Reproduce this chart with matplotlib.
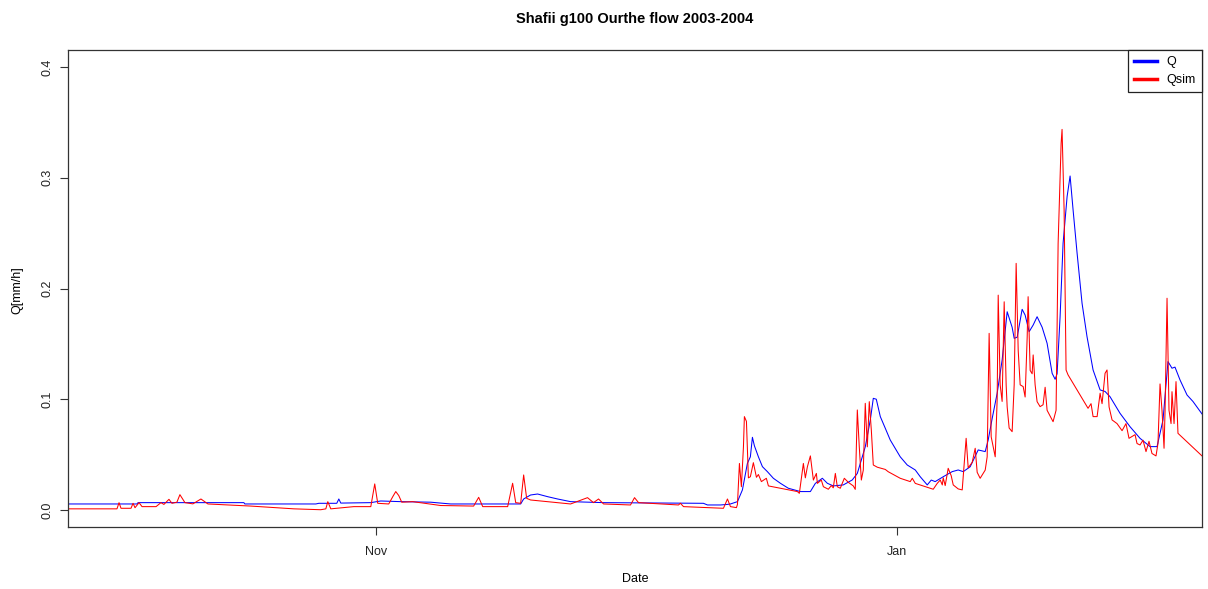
import numpy as np
import pandas as pd
import matplotlib
matplotlib.use("Agg")
import matplotlib.pyplot as plt

plt.rcParams['font.family'] = ['Liberation Sans', 'DejaVu Sans']

# series start (days below are counted from here)
start = pd.Timestamp('2003-09-26')

q_days = [0.0, 8.07, 8.19, 20.57, 20.69, 28.99, 29.34, 31.44, 31.68, 31.91,
          35.42, 36.58, 38.92, 42.43, 44.76, 52.95, 53.30, 54.11, 54.93, 56.10,
          57.27, 58.79, 62.65, 74.33, 74.80, 76.32, 77.14, 77.49, 78.31, 78.89,
          79.47, 79.82, 80.06, 80.29, 80.76, 81.23, 81.81, 82.51, 83.33, 84.26,
          85.67, 86.84, 87.42, 88.24, 88.82, 89.52, 90.69, 91.74, 92.33, 92.68,
          93.26, 93.85, 94.20, 94.55, 95.02, 95.60, 96.18, 97.35, 98.17, 99.11,
          99.69, 100.51, 100.98, 101.44, 102.38, 103.43, 104.13, 104.72, 105.53, 106.47,
          107.29, 107.64, 108.11, 108.69, 109.27, 109.86, 110.44, 110.68, 111.03, 111.61,
          111.96, 112.43, 112.90, 113.36, 113.95, 114.53, 115.12, 115.47, 115.70, 116.05,
          116.40, 116.87, 117.22, 117.57, 118.04, 118.62, 119.20, 119.91, 120.73, 121.31,
          121.89, 123.06, 124.23, 125.40, 126.57, 127.39, 128.09, 128.67, 129.14, 129.49,
          130.08, 130.90, 131.59, 132.65]
q_vals = [0.0054, 0.0054, 0.0066, 0.0066, 0.0054, 0.0054, 0.0060, 0.0060, 0.0099, 0.0062,
          0.0066, 0.0081, 0.0075, 0.0070, 0.0054, 0.0054, 0.0099, 0.0135, 0.0144, 0.0120,
          0.0099, 0.0075, 0.0066, 0.0060, 0.0045, 0.0045, 0.0050, 0.0054, 0.0075, 0.0181,
          0.0420, 0.0480, 0.0656, 0.0580, 0.0480, 0.0391, 0.0346, 0.0286, 0.0241, 0.0196,
          0.0166, 0.0166, 0.0240, 0.0286, 0.0241, 0.0217, 0.0226, 0.0271, 0.0330, 0.0420,
          0.0570, 0.0813, 0.1008, 0.1000, 0.0843, 0.0738, 0.0632, 0.0480, 0.0406, 0.0361,
          0.0300, 0.0226, 0.0270, 0.0256, 0.0300, 0.0346, 0.0361, 0.0346, 0.0390, 0.0542,
          0.0527, 0.0632, 0.0828, 0.1054, 0.1354, 0.1790, 0.1650, 0.1550, 0.1560, 0.1812,
          0.1760, 0.1610, 0.1670, 0.1745, 0.1650, 0.1505, 0.1234, 0.1180, 0.1230, 0.1745,
          0.2408, 0.2830, 0.3016, 0.2710, 0.2318, 0.1866, 0.1565, 0.1264, 0.1084, 0.1070,
          0.1023, 0.0873, 0.0752, 0.0647, 0.0572, 0.0572, 0.0813, 0.1340, 0.1280, 0.1290,
          0.1174, 0.1038, 0.0980, 0.0867]

# simulated flow Qsim
qs_days = [0.0, 5.73, 5.97, 6.20, 7.37, 7.61, 7.84, 8.31, 8.66, 10.30,
           10.87, 11.22, 11.81, 12.16, 12.74, 13.09, 13.68, 14.61, 15.55, 16.37,
           21.39, 26.42, 29.57, 30.16, 30.39, 30.74, 33.43, 35.42, 35.88, 36.23,
           37.52, 37.99, 38.34, 38.69, 39.04, 40.32, 43.60, 47.45, 48.04, 48.51,
           51.43, 52.01, 52.37, 52.95, 53.30, 53.65, 54.11, 58.79, 60.77, 61.47,
           62.06, 62.65, 65.80, 66.27, 66.74, 71.41, 71.64, 72.00, 76.67, 77.14,
           77.49, 78.19, 78.31, 78.54, 78.77, 79.01, 79.12, 79.36, 79.59, 79.82,
           80.17, 80.53, 80.76, 81.11, 81.69, 81.93, 83.33, 85.32, 85.55, 86.02,
           86.25, 86.49, 86.84, 87.19, 87.54, 87.66, 88.12, 88.36, 88.94, 89.29,
           89.52, 89.76, 89.99, 90.34, 90.81, 91.27, 91.86, 92.09, 92.33, 92.56,
           92.80, 93.03, 93.26, 93.50, 93.73, 93.97, 94.20, 94.67, 95.60, 95.95,
           97.35, 98.52, 98.76, 99.11, 101.21, 101.68, 102.03, 102.27, 102.38, 102.61,
           102.96, 103.31, 103.55, 104.13, 104.60, 105.06, 105.30, 105.77, 106.12, 106.35,
           106.70, 107.29, 107.52, 107.75, 107.99, 108.22, 108.46, 108.69, 108.81, 109.04,
           109.27, 109.51, 109.74, 109.86, 110.09, 110.44, 110.68, 110.91, 111.15, 111.38,
           111.73, 111.96, 112.20, 112.31, 112.55, 112.78, 112.90, 113.13, 113.36, 113.71,
           114.06, 114.30, 114.53, 115.23, 115.58, 115.82, 116.17, 116.28, 116.52, 116.75,
           116.98, 119.32, 119.67, 119.91, 120.38, 120.73, 120.96, 121.31, 121.54, 121.78,
           122.13, 122.71, 123.30, 123.76, 124.11, 124.82, 125.05, 125.40, 125.75, 126.10,
           126.45, 126.80, 127.27, 127.50, 127.74, 127.97, 128.21, 128.33, 128.56, 128.79,
           129.03, 129.14, 129.38, 129.61, 129.84, 131.24, 132.65]
qs_vals = [0.0010, 0.0010, 0.0066, 0.0015, 0.0015, 0.0060, 0.0020, 0.0066, 0.0030, 0.0030,
           0.0066, 0.0050, 0.0096, 0.0060, 0.0070, 0.0138, 0.0066, 0.0055, 0.0099, 0.0054,
           0.0035, 0.0010, 0.0002, 0.0010, 0.0075, 0.0010, 0.0030, 0.0030, 0.0235, 0.0060,
           0.0054, 0.0120, 0.0166, 0.0130, 0.0070, 0.0075, 0.0040, 0.0035, 0.0114, 0.0030,
           0.0030, 0.0241, 0.0066, 0.0060, 0.0316, 0.0105, 0.0090, 0.0054, 0.0111, 0.0066,
           0.0099, 0.0054, 0.0045, 0.0111, 0.0066, 0.0045, 0.0060, 0.0030, 0.0015, 0.0099,
           0.0030, 0.0021, 0.0050, 0.0420, 0.0210, 0.0570, 0.0843, 0.0800, 0.0290, 0.0300,
           0.0427, 0.0295, 0.0320, 0.0256, 0.0286, 0.0217, 0.0196, 0.0166, 0.0150, 0.0420,
           0.0290, 0.0390, 0.0488, 0.0270, 0.0330, 0.0240, 0.0270, 0.0210, 0.0187, 0.0220,
           0.0200, 0.0330, 0.0210, 0.0196, 0.0286, 0.0250, 0.0217, 0.0186, 0.0903, 0.0570,
           0.0270, 0.0360, 0.0963, 0.0570, 0.0978, 0.0720, 0.0406, 0.0386, 0.0366, 0.0345,
           0.0286, 0.0256, 0.0286, 0.0240, 0.0187, 0.0240, 0.0270, 0.0226, 0.0290, 0.0220,
           0.0376, 0.0310, 0.0226, 0.0190, 0.0181, 0.0647, 0.0380, 0.0430, 0.0557, 0.0340,
           0.0286, 0.0360, 0.0480, 0.1595, 0.0660, 0.0570, 0.0480, 0.1000, 0.1940, 0.1130,
           0.0980, 0.1880, 0.1130, 0.0930, 0.0740, 0.0707, 0.1130, 0.2227, 0.1440, 0.1130,
           0.1114, 0.1020, 0.1560, 0.1926, 0.1260, 0.1230, 0.1400, 0.1130, 0.0978, 0.0933,
           0.0950, 0.1108, 0.0900, 0.0797, 0.0900, 0.2408, 0.3310, 0.3437, 0.2710, 0.1264,
           0.1220, 0.0918, 0.0960, 0.0843, 0.0843, 0.1054, 0.0960, 0.1234, 0.1264, 0.0930,
           0.0813, 0.0780, 0.0716, 0.0780, 0.0647, 0.0680, 0.0600, 0.0587, 0.0630, 0.0527,
           0.0620, 0.0510, 0.0488, 0.0600, 0.1138, 0.0900, 0.0557, 0.0900, 0.1912, 0.0900,
           0.0780, 0.1068, 0.0780, 0.1159, 0.0692, 0.0590, 0.0488]

y_ticks = [0.0, 0.1, 0.2, 0.3, 0.4]
x_ticks = ['2003-11-01', '2004-01-01']
x_labels = ['Nov', 'Jan']

q_dates = start + pd.to_timedelta(q_days, unit='D')
qs_dates = start + pd.to_timedelta(qs_days, unit='D')

fig = plt.figure(figsize=(12.08, 5.89), dpi=100)
ax = fig.add_axes([68 / 1208, 1 - 527 / 589, (1202 - 68) / 1208, (527 - 50) / 589])

ax.plot(q_dates, q_vals, color='blue', lw=0.75, label='Q')
ax.plot(qs_dates, qs_vals, color='red', lw=0.75, label='Qsim')

ax.set_xlim(q_dates[0], q_dates[-1])
ax.set_ylim(-0.0154, 0.4154)

ax.set_yticks(y_ticks)
ax.set_yticklabels(['%.1f' % v for v in y_ticks], rotation=90, va='center')
ax.set_xticks(pd.to_datetime(x_ticks))
ax.set_xticklabels(x_labels)
ax.tick_params(axis='both', direction='out', length=5.5, width=0.8,
               labelsize=9, color='#333333', labelcolor='#222222')
ax.tick_params(axis='y', pad=5)
ax.tick_params(axis='x', pad=8)
for sp in ax.spines.values():
    sp.set_color('#333333')
    sp.set_linewidth(0.9)

fig.text(635 / 1208, 1 - 19 / 589, 'Shafii g100 Ourthe flow 2003-2004',
         ha='center', va='center', fontsize=10.5, fontweight='bold')
fig.text(635 / 1208, 1 - 579 / 589, 'Date', ha='center', va='center', fontsize=9)
fig.text(17 / 1208, 1 - 290 / 589, 'Q[mm/h]', ha='center', va='center',
         rotation=90, fontsize=9)

leg = ax.legend(loc='upper right', borderaxespad=0, fancybox=False,
                framealpha=1, edgecolor='#222222', fontsize=9,
                handlelength=1.8, handletextpad=0.8, borderpad=0.5,
                labelspacing=0.45)
leg.get_frame().set_linewidth(0.9)
for line in leg.get_lines():
    line.set_linewidth(2.5)

fig.savefig('out.png', dpi=100)
